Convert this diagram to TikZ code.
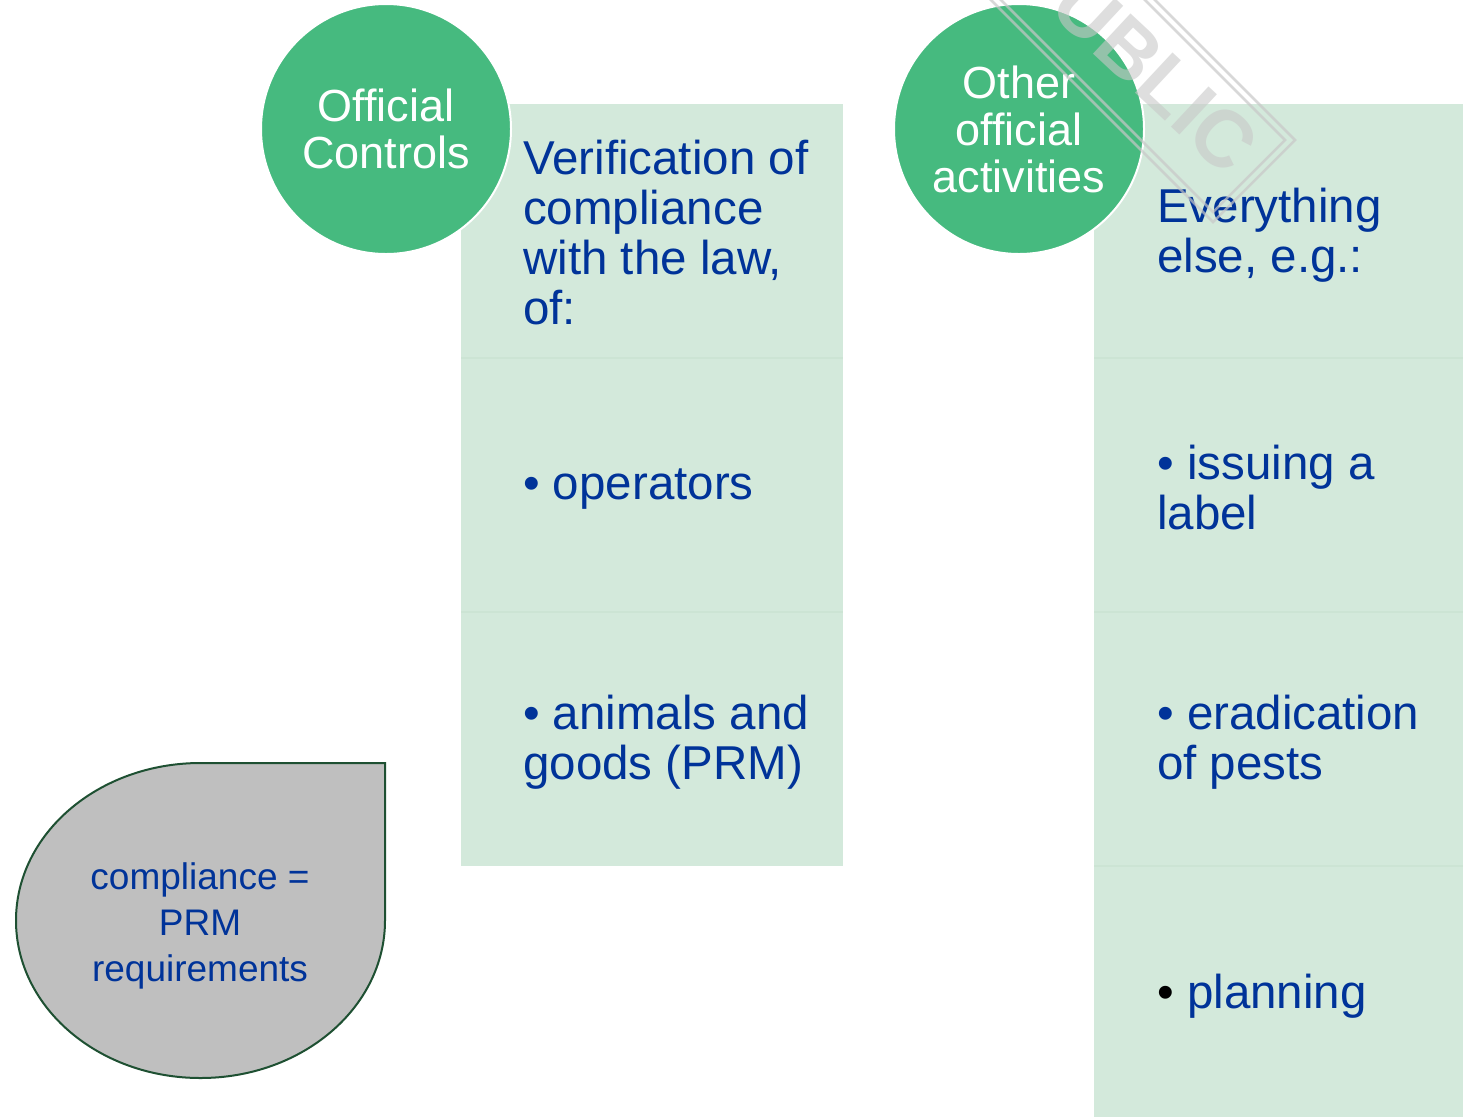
\documentclass[tikz,border=0pt]{standalone}
\usepackage{fontspec}
\setmainfont{Liberation Sans}
\definecolor{ocgreen}{RGB}{70,186,127}
\definecolor{cellgreen}{RGB}{211,233,219}
\definecolor{cellline}{RGB}{204,228,212}
\definecolor{textblue}{RGB}{0,51,153}
\definecolor{dropgray}{RGB}{191,191,191}
\definecolor{dropline}{RGB}{30,80,50}
\definecolor{stampgray}{RGB}{200,200,200}
\tikzset{
	ocircle/.style={circle, minimum size=250pt, inner sep=0pt, fill=ocgreen, draw=white, line width=2pt, text=white, align=center, font=\fontsize{45}{47}\selectfont},
	celltext/.style={anchor=west, inner sep=0pt, align=left, text=textblue, font=\fontsize{47.5}{50}\selectfont},
	cellsep/.style={draw=cellline, line width=2pt},
	stampline/.style={draw=stampgray, opacity=0.7, line width=2.5pt}
}

\begin{document}
\begin{tikzpicture}[x=1pt,y=-1pt]
		\useasboundingbox (0,0) rectangle (1463,1117);
		\clip (0,0) rectangle (1463,1117);
		\fill[white] (0,0) rectangle (1463,1117);
		\fill[cellgreen] (461,104) rectangle (843,866);
		\fill[cellgreen] (1094,104) rectangle (1463,1117);
		\foreach \y in {358,612} \draw[cellsep] (461,\y) -- (843,\y);
		\foreach \y in {358,612,866} \draw[cellsep] (1094,\y) -- (1463,\y);
		
		\node[celltext] (verif) at (523,233) {Verification of\\compliance\\with the law,\\of:};
		\node[celltext] (oper) at (523,489) {• operators};
		\node[celltext] (animals) at (523,742) {• animals and\\goods (PRM)};
		\node[celltext] (everything) at (1157,235) {Everything\\else, e.g.:};
		\node[celltext] (label) at (1157,488) {• issuing a\\label};
		\node[celltext] (pests) at (1157,742) {• eradication\\of pests};
		\node[celltext] (plan) at (1157,996) {{\color{black}•} planning};
		
		\node[ocircle] (offctrl) at (386,129) {Official\\Controls};
		\node[ocircle] (othact) at (1019,129) {Other\\official\\activities};
		
		\draw[fill=dropgray, draw=dropline, line width=2pt] (385,920.5) -- (385,763) -- (200.5,763) arc[start angle=270, end angle=0, x radius=184.5, y radius=157.5] -- cycle;
		\node[text=textblue, align=center, font=\fontsize{37}{46}\selectfont] (prm) at (200,926) {compliance =\\PRM\\requirements};
		
		\draw[stampline] (1213,222) -- (1295,140) -- (1012,-143) -- (930,-61) -- cycle;
		\draw[stampline] (1213,212) -- (1285,140) -- (1012,-133) -- (940,-61) -- cycle;
		\node[rotate=-43, text=stampgray, opacity=0.6, font=\fontsize{80}{80}\selectfont\bfseries] (stamp) at (1136,56) {PUBLIC};
\end{tikzpicture}
\end{document}
